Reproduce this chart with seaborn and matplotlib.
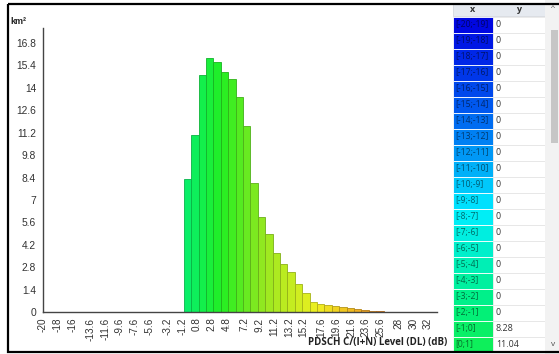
import numpy as np
import matplotlib
matplotlib.use('Agg')
import matplotlib.pyplot as plt
import seaborn as sns
from matplotlib.colors import LinearSegmentedColormap, to_rgb
from matplotlib.patches import Rectangle

sns.set_style('white')
plt.rcParams['font.family'] = ['Liberation Sans', 'DejaVu Sans']

# Data: area per 1 dB bin (lower edge of bin -> km2)
bin_lo = list(range(-20, 32))
area_km2 = [0, 0, 0, 0, 0, 0, 0, 0, 0, 0,
            0, 0, 0, 0, 0, 0, 0, 0, 0,
            8.28, 11.04, 14.8, 15.85, 15.6, 15.0, 14.56, 13.46, 11.6, 8.08,
            5.96, 4.87, 3.69, 3.0, 2.5, 1.75, 1.17, 0.65, 0.5, 0.44,
            0.36, 0.29, 0.23, 0.17, 0.1, 0.07, 0.04,
            0, 0, 0, 0, 0, 0]
xtick_vals = [-20, -18, -16, -13.6, -11.6, -9.6, -7.6, -5.6, -3.2, -1.2, 0.8, 2.8, 4.8,
              7.2, 9.2, 11.2, 13.2, 15.2, 17.6, 19.6, 21.6, 23.6, 25.6, 28, 30, 32]
xtick_labels = ['-20', '-18', '-16', '-13.6', '-11.6', '-9.6', '-7.6', '-5.6', '-3.2', '-1.2',
                '0.8', '2.8', '4.8', '7.2', '9.2', '11.2', '13.2', '15.2', '17.6', '19.6',
                '21.6', '23.6', '25.6', '28', '30', '32']
ytick_vals = [0, 1.4, 2.8, 4.2, 5.6, 7, 8.4, 9.8, 11.2, 12.6, 14, 15.4, 16.8]
ytick_labels = ['0', '1.4', '2.8', '4.2', '5.6', '7', '8.4', '9.8', '11.2', '12.6', '14', '15.4', '16.8']

centers = [b + 0.5 for b in bin_lo]

# colour ramp of the C/(I+N) legend
stops = [(-20, '#0000e0'), (-14, '#0060f0'), (-8, '#00eeff'), (-2, '#00f080'),
         (4, '#22ee22'), (10, '#99e820'), (17, '#f0f020'), (24, '#f0a020'), (32, '#e03010')]
cmap = LinearSegmentedColormap.from_list(
    'cin', [((v + 20) / 52, c) for v, c in stops])
def level_color(v):
    return cmap(np.clip((v + 20) / 52, 0, 1))

W, H = 559, 354
fig = plt.figure(figsize=(W / 100, H / 100), dpi=100)
fig.patch.set_facecolor('white')

ax = fig.add_axes([43 / W, (H - 312) / H, 394 / W, 284 / H])
sns.barplot(x=centers, y=area_km2, native_scale=True, width=1.0, ax=ax)
for p, c, v in zip(ax.patches, centers, area_km2):
    fc = level_color(c)
    p.set_facecolor(fc)
    p.set_edgecolor(tuple(np.array(to_rgb(fc)) * 0.75))
    p.set_linewidth(0.6 if v > 0 else 0)

ax.set_xlim(-20, 33.2)
ax.set_ylim(0, 17.74)
ax.set_xticks(xtick_vals)
ax.set_xticklabels(xtick_labels, rotation=90, fontsize=7.2, color='#333333')
ax.set_yticks(ytick_vals)
ax.set_yticklabels(ytick_labels, fontsize=7.4, color='#333333')
ax.tick_params(axis='x', direction='out', length=3, width=0.8, pad=1, color='#444444')
ax.tick_params(axis='y', direction='in', length=2, width=0.8, pad=5, color='#444444')
ax.set_xlabel('')
ax.set_ylabel('')
for s in ['top', 'right']:
    ax.spines[s].set_visible(False)
for s in ['left', 'bottom']:
    ax.spines[s].set_color('#444444')
    ax.spines[s].set_linewidth(1.0)
ax.grid(False)

# overlay in pixel coordinates for labels, table and frame
ov = fig.add_axes([0, 0, 1, 1])
ov.set_xlim(0, W)
ov.set_ylim(H, 0)
ov.axis('off')

ov.text(10, 22, 'km²', fontsize=6.5, fontweight='bold', color='#222222', va='center', ha='left')
ov.text(447, 343, 'PDSCH C/(I+N) Level (DL) (dB)', fontsize=7, fontweight='bold',
        family=['Open Sans', 'DejaVu Sans'], color='#222222', ha='right', va='center')

# table of bins
tx0, tx1, ty1, sb0 = 453, 493, 545, 545
ov.add_patch(Rectangle((tx0, 4), sb0 - tx0, 12, facecolor='#e6eaf0', edgecolor='#d0d4da', lw=0.5))
ov.text((tx0 + tx1) / 2, 10, 'x', fontsize=6.5, fontweight='bold', ha='center', va='center',
        family=['Open Sans', 'DejaVu Sans'], color='#333333')
ov.text((tx1 + ty1) / 2, 10, 'y', fontsize=6.5, fontweight='bold', ha='center', va='center',
        family=['Open Sans', 'DejaVu Sans'], color='#333333')
row_h = 16
for i, (lo, v) in enumerate(zip(bin_lo, area_km2)):
    top = 17 + i * row_h
    if top > 340:
        break
    fc = level_color(lo + 0.5)
    h = min(row_h, 352 - top)
    ov.add_patch(Rectangle((tx0, top), tx1 - tx0, h, facecolor=fc, edgecolor='white', lw=0.6))
    ov.add_patch(Rectangle((tx1, top), ty1 - tx1, h, facecolor='white', edgecolor='#e2e2e2', lw=0.5))
    txt_c = tuple(np.array(to_rgb(fc)) * 0.45)
    ov.text(tx0 + 2, top + row_h / 2 - 0.5, f'[{lo};{lo + 1}]', fontsize=6.2, ha='left', va='center',
            family=['Open Sans', 'DejaVu Sans'], color=txt_c)
    ov.text(tx1 + 3, top + row_h / 2 - 0.5, f'{v:g}', fontsize=6.4, ha='left', va='center',
            family=['Open Sans', 'DejaVu Sans'], color='#333333')

# scrollbar
ov.add_patch(Rectangle((sb0, 0), W - sb0, H, facecolor='#f2f2f2', edgecolor='none'))
ov.add_patch(Rectangle((551, 30), 7, 113, facecolor='#c6c6c6', edgecolor='none'))
ov.text(553, 9, '^', fontsize=6, ha='center', va='center', color='#555555')
ov.text(553, 344, 'v', fontsize=6, ha='center', va='center', color='#555555')

# outer frame
ov.add_patch(Rectangle((8, 4), W, 348, facecolor='none', edgecolor='black', lw=1.6))

fig.savefig('out.png', dpi=100)
